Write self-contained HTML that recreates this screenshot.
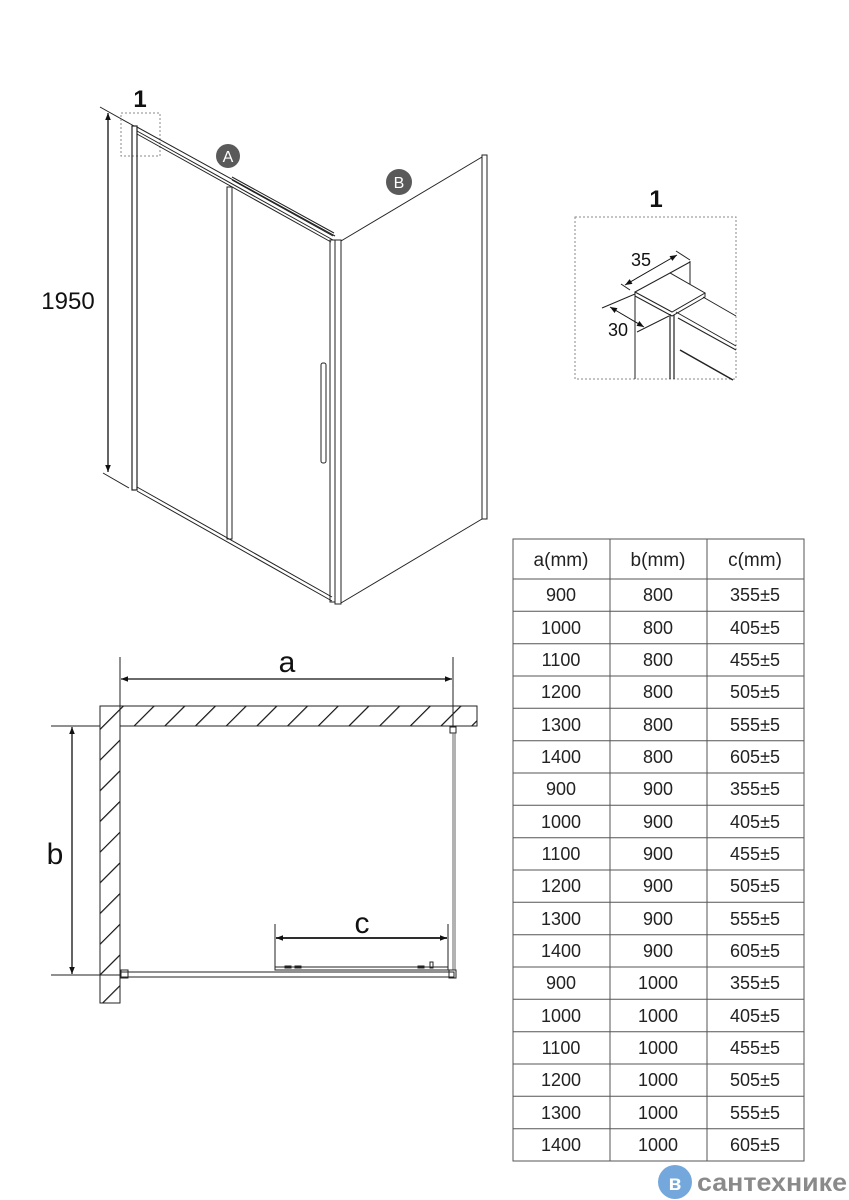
<!DOCTYPE html>
<html><head><meta charset="utf-8"><style>
html,body{margin:0;padding:0;background:#fff;width:849px;height:1200px;overflow:hidden;}
svg{display:block;}
text{font-family:"Liberation Sans",sans-serif;}
</style></head><body>
<svg width="849" height="1200" viewBox="0 0 849 1200" xmlns="http://www.w3.org/2000/svg">
<defs>
<marker id="ar" viewBox="0 0 10 10" refX="10" refY="5" markerWidth="9" markerHeight="7" orient="auto-start-reverse" markerUnits="userSpaceOnUse"><path d="M0,1 L10,5 L0,9 Z" fill="#111"/></marker>
<pattern id="hatch" patternUnits="userSpaceOnUse" width="21.7" height="21.7" patternTransform="rotate(45)"><line x1="0" y1="0" x2="0" y2="21.7" stroke="#111" stroke-width="2.4"/></pattern>
<clipPath id="wallclip"><path d="M100,706 H477 V726 H120 V1003 H100 Z"/></clipPath>
</defs>
<g stroke="#222" fill="none" stroke-width="1">
<line x1="100" y1="107" x2="134" y2="126"/>
<line x1="103" y1="473" x2="129" y2="488"/>
<line x1="108" y1="113" x2="108" y2="472" marker-start="url(#ar)" marker-end="url(#ar)" stroke="#111" stroke-width="1.3"/>
<rect x="121" y="113" width="39" height="43" stroke="#888" stroke-dasharray="2,2"/>
<rect x="132" y="126" width="5" height="364" stroke-width="1.2"/>
<line x1="137" y1="127" x2="335" y2="236"/>
<line x1="137" y1="131" x2="333" y2="240"/>
<line x1="137" y1="134" x2="331" y2="242"/>
<line x1="232" y1="177" x2="334" y2="233"/>
<line x1="232" y1="180" x2="333" y2="236"/>
<line x1="137" y1="487" x2="332" y2="597"/>
<line x1="137" y1="491" x2="332" y2="601"/>
<rect x="227" y="187" width="5" height="352" stroke-width="1"/>
<rect x="330" y="240" width="5" height="362"/>
<rect x="335" y="240" width="6" height="364"/>
<rect x="321" y="363" width="5" height="100" rx="2"/>
<line x1="341" y1="241" x2="482" y2="157"/>
<line x1="341" y1="603" x2="482" y2="519"/>
<rect x="482" y="155" width="5" height="364"/>
</g>
<circle cx="228" cy="156" r="12" fill="#5a5a5a"/>
<text x="228" y="162" font-size="16" fill="#fff" text-anchor="middle">A</text>
<circle cx="399" cy="182" r="13" fill="#5a5a5a"/>
<text x="399" y="188" font-size="16" fill="#fff" text-anchor="middle">B</text>
<text x="140" y="107" font-size="24" font-weight="bold" text-anchor="middle" fill="#111">1</text>
<text x="68" y="309" font-size="24" text-anchor="middle" fill="#111">1950</text>

<text x="656" y="207" font-size="24" font-weight="bold" text-anchor="middle" fill="#111">1</text>
<rect x="575" y="217" width="161" height="162" fill="none" stroke="#888" stroke-dasharray="2,2"/>
<g stroke="#222" fill="none" stroke-width="1">
<path d="M635,292 L670,273 L705,293 L672,312 Z"/>
<path d="M635,292 L635,296 L672,316 L705,297 L705,293"/>
<line x1="635" y1="296" x2="635" y2="379"/>
<line x1="670" y1="273" x2="690" y2="262"/>
<line x1="690" y1="261" x2="690" y2="284"/>
<line x1="670" y1="314" x2="670" y2="379" stroke-width="1.2"/>
<line x1="674" y1="315" x2="674" y2="379" stroke-width="1.2"/>
<line x1="676" y1="312" x2="736" y2="346"/>
<line x1="678" y1="318" x2="736" y2="350"/>
<line x1="680" y1="350" x2="733" y2="380" stroke-width="1.5"/>
<line x1="703" y1="297" x2="736" y2="316"/>
<line x1="621" y1="284" x2="630" y2="290"/>
<line x1="676" y1="251" x2="690" y2="260"/>
<line x1="625" y1="285" x2="677" y2="255" marker-start="url(#ar)" marker-end="url(#ar)" stroke="#111"/>
<line x1="602" y1="308" x2="635" y2="294"/>
<line x1="637" y1="332" x2="669" y2="316"/>
<line x1="610" y1="307" x2="644" y2="327" marker-start="url(#ar)" marker-end="url(#ar)" stroke="#111"/>
</g>
<text x="641" y="266" font-size="18" text-anchor="middle" fill="#111">35</text>
<text x="618" y="336" font-size="18" text-anchor="middle" fill="#111">30</text>

<rect x="100" y="706" width="377" height="1000" fill="url(#hatch)" clip-path="url(#wallclip)"/>
<path d="M100,706 H477 V726 H120 V1003 H100 Z" fill="none" stroke="#222" stroke-width="1"/>
<g stroke="#222" fill="none" stroke-width="1">
<line x1="120" y1="657" x2="120" y2="726"/>
<line x1="453" y1="657" x2="453" y2="726"/>
<line x1="121" y1="679" x2="452" y2="679" marker-start="url(#ar)" marker-end="url(#ar)" stroke="#111" stroke-width="1.3"/>
<line x1="51" y1="726" x2="100" y2="726"/>
<line x1="51" y1="975" x2="120" y2="975"/>
<line x1="72" y1="727" x2="72" y2="974" marker-start="url(#ar)" marker-end="url(#ar)" stroke="#111" stroke-width="1.3"/>
<line x1="275" y1="924" x2="275" y2="968"/>
<line x1="448" y1="924" x2="448" y2="968"/>
<line x1="276" y1="938" x2="447" y2="938" marker-start="url(#ar)" marker-end="url(#ar)" stroke="#111" stroke-width="1.8"/>
<rect x="450" y="727" width="6" height="6"/>
<line x1="453" y1="733" x2="453" y2="970" stroke="#666"/>
<line x1="455" y1="733" x2="455" y2="970" stroke="#666"/>
<rect x="121" y="972" width="333" height="5"/>
<rect x="121" y="970" width="7" height="8"/>
<rect x="449" y="970" width="7" height="8"/>
<rect x="275" y="967" width="173" height="3"/>
<rect x="285" y="966" width="6" height="2"/>
<rect x="295" y="966" width="6" height="2"/>
<rect x="418" y="966" width="6" height="2"/>
<rect x="430" y="962" width="3" height="6"/>
</g>
<text x="287" y="672" font-size="30" text-anchor="middle" fill="#111">a</text>
<text x="55" y="864" font-size="30" text-anchor="middle" fill="#111">b</text>
<text x="362" y="933" font-size="30" text-anchor="middle" fill="#111">c</text>

<g stroke="#555" stroke-width="1" fill="none">
<rect x="513" y="539" width="291" height="622"/>
<line x1="610" y1="539" x2="610" y2="1161"/>
<line x1="707" y1="539" x2="707" y2="1161"/>
<line x1="513" y1="579" x2="804" y2="579"/>
<line x1="513" y1="611.3" x2="804" y2="611.3"/><line x1="513" y1="643.7" x2="804" y2="643.7"/><line x1="513" y1="676" x2="804" y2="676"/><line x1="513" y1="708.3" x2="804" y2="708.3"/><line x1="513" y1="740.7" x2="804" y2="740.7"/><line x1="513" y1="773" x2="804" y2="773"/><line x1="513" y1="805.3" x2="804" y2="805.3"/><line x1="513" y1="837.7" x2="804" y2="837.7"/><line x1="513" y1="870" x2="804" y2="870"/><line x1="513" y1="902.3" x2="804" y2="902.3"/><line x1="513" y1="934.7" x2="804" y2="934.7"/><line x1="513" y1="967" x2="804" y2="967"/><line x1="513" y1="999.3" x2="804" y2="999.3"/><line x1="513" y1="1031.7" x2="804" y2="1031.7"/><line x1="513" y1="1064" x2="804" y2="1064"/><line x1="513" y1="1096.3" x2="804" y2="1096.3"/><line x1="513" y1="1128.7" x2="804" y2="1128.7"/>
</g>
<g font-size="18" text-anchor="middle" fill="#222">
<text x="561" y="566" font-size="19">a(mm)</text><text x="658" y="566" font-size="19">b(mm)</text><text x="755" y="566" font-size="19">c(mm)</text>
<text x="561" y="601">900</text><text x="658" y="601">800</text><text x="755" y="601">355±5</text>
<text x="561" y="634">1000</text><text x="658" y="634">800</text><text x="755" y="634">405±5</text>
<text x="561" y="666">1100</text><text x="658" y="666">800</text><text x="755" y="666">455±5</text>
<text x="561" y="698">1200</text><text x="658" y="698">800</text><text x="755" y="698">505±5</text>
<text x="561" y="731">1300</text><text x="658" y="731">800</text><text x="755" y="731">555±5</text>
<text x="561" y="763">1400</text><text x="658" y="763">800</text><text x="755" y="763">605±5</text>
<text x="561" y="795">900</text><text x="658" y="795">900</text><text x="755" y="795">355±5</text>
<text x="561" y="828">1000</text><text x="658" y="828">900</text><text x="755" y="828">405±5</text>
<text x="561" y="860">1100</text><text x="658" y="860">900</text><text x="755" y="860">455±5</text>
<text x="561" y="892">1200</text><text x="658" y="892">900</text><text x="755" y="892">505±5</text>
<text x="561" y="925">1300</text><text x="658" y="925">900</text><text x="755" y="925">555±5</text>
<text x="561" y="957">1400</text><text x="658" y="957">900</text><text x="755" y="957">605±5</text>
<text x="561" y="989">900</text><text x="658" y="989">1000</text><text x="755" y="989">355±5</text>
<text x="561" y="1022">1000</text><text x="658" y="1022">1000</text><text x="755" y="1022">405±5</text>
<text x="561" y="1054">1100</text><text x="658" y="1054">1000</text><text x="755" y="1054">455±5</text>
<text x="561" y="1086">1200</text><text x="658" y="1086">1000</text><text x="755" y="1086">505±5</text>
<text x="561" y="1119">1300</text><text x="658" y="1119">1000</text><text x="755" y="1119">555±5</text>
<text x="561" y="1151">1400</text><text x="658" y="1151">1000</text><text x="755" y="1151">605±5</text>
</g>
<circle cx="675" cy="1182" r="17" fill="#74a8dc"/>
<text x="675" y="1190" font-size="21" font-weight="bold" fill="#fff" text-anchor="middle">в</text>
<text x="697" y="1191" font-size="25" font-weight="bold" fill="#8a8a8a" textLength="150" lengthAdjust="spacingAndGlyphs">сантехнике</text>
</svg>
</body></html>
